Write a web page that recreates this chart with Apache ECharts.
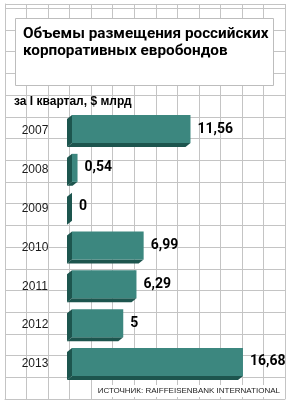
<!DOCTYPE html>
<html>
<head>
<meta charset="utf-8">
<script src="https://cdn.jsdelivr.net/npm/echarts@6/dist/echarts.min.js"></script>
<style>
  html, body { margin: 0; padding: 0; background: #fff; }
  #main { width: 292px; height: 407px; }
</style>
</head>
<body>
<div id="main"></div>
<script>
// данные
var years = ['2007', '2008', '2009', '2010', '2011', '2012', '2013'];
var volumes = [11.56, 0.54, 0, 6.99, 6.29, 5, 16.68];
var titleText = 'Объемы размещения российских\nкорпоративных евробондов';
var unitText = 'за I квартал, $ млрд';
var sourceText = 'ИСТОЧНИК: RAIFFEISENBANK INTERNATIONAL';

var myChart = echarts.init(document.getElementById('main'));

var faceColor = '#3c877f';
var darkColor = '#1d554e';

function fmt(v) {
    return String(v).replace('.', ',');
}

var option = {
    backgroundColor: '#fff',
    animation: false,
    title: [
        {
            text: titleText,
            left: 23,
            top: 26,
            padding: 0,
            z: 8,
            textStyle: {
                color: '#000',
                fontFamily: 'Roboto',
                fontWeight: 'bold',
                fontSize: 15.3,
                lineHeight: 17
            }
        },
        {
            text: unitText,
            left: 14,
            top: 95,
            padding: 0,
            textStyle: {
                color: '#000',
                fontFamily: "'Liberation Sans Narrow', 'Liberation Sans'",
                fontWeight: 'bold',
                fontSize: 12,
                lineHeight: 14
            }
        },
        {
            text: sourceText,
            right: 11,
            top: 385,
            padding: [1, 1],
            backgroundColor: '#fff',
            textStyle: {
                color: '#222',
                fontFamily: "'Liberation Sans Narrow', 'Liberation Sans'",
                fontWeight: 'normal',
                fontSize: 8,
                lineHeight: 10
            }
        }
    ],
    // белая плашка под заголовком
    graphic: [
        {
            type: 'rect',
            z: 5,
            shape: { x: 15.5, y: 18.5, width: 258, height: 67 },
            style: { fill: '#fff', stroke: '#bdbdbd', lineWidth: 1 }
        }
    ],
    grid: [
        // фоновая клетка
        { left: 5, right: 7, top: 4, bottom: 8 },
        // столбцы
        { left: 72, width: 205, top: 111.6, bottom: 23.6 }
    ],
    xAxis: [
        {
            gridIndex: 0,
            type: 'value',
            position: 'top',
            min: 0,
            max: 13,
            interval: 1,
            axisLine: { show: true, lineStyle: { color: '#c4c4c4', width: 1 } },
            axisTick: { show: false },
            axisLabel: { show: false },
            splitLine: { show: true, lineStyle: { color: '#c4c4c4', width: 1 } }
        },
        {
            gridIndex: 1,
            type: 'value',
            min: 0,
            max: 20,
            show: false
        }
    ],
    yAxis: [
        {
            gridIndex: 0,
            type: 'value',
            min: 0,
            max: 18.2,
            interval: 1,
            axisLine: { show: true, lineStyle: { color: '#c4c4c4', width: 1 } },
            axisTick: { show: false },
            axisLabel: { show: false },
            splitLine: { show: true, lineStyle: { color: '#c4c4c4', width: 1 } }
        },
        {
            gridIndex: 1,
            type: 'category',
            inverse: true,
            data: years,
            axisLine: { show: false },
            axisTick: { show: false },
            splitLine: { show: false },
            axisLabel: {
                margin: 37,
                align: 'center',
                color: '#1a1a1a',
                fontFamily: "'Liberation Sans', Arial",
                fontSize: 12
            }
        }
    ],
    series: [
        {
            type: 'custom',
            xAxisIndex: 1,
            yAxisIndex: 1,
            z: 10,
            data: volumes.map(function (v, i) { return [v, i]; }),
            encode: { x: 0, y: 1 },
            renderItem: function (params, api) {
                var v = api.value(0);
                var idx = api.value(1);
                var p0 = api.coord([0, idx]);
                var p1 = api.coord([v, idx]);
                var x0 = p0[0], x1 = p1[0], yc = p0[1];
                var top = yc - 16, bot = yc + 12;
                var dx = -5, dy = 4;
                return {
                    type: 'group',
                    children: [
                        {
                            type: 'polygon',
                            shape: { points: [[x0, top], [x0, bot], [x0 + dx, bot + dy], [x0 + dx, top + dy]] },
                            style: { fill: darkColor }
                        },
                        {
                            type: 'polygon',
                            shape: { points: [[x0, bot], [x1, bot], [x1 + dx, bot + dy], [x0 + dx, bot + dy]] },
                            style: { fill: darkColor }
                        },
                        {
                            type: 'rect',
                            shape: { x: x0, y: top, width: x1 - x0, height: bot - top },
                            style: { fill: faceColor }
                        },
                        {
                            type: 'text',
                            style: {
                                text: fmt(volumes[idx]),
                                x: x1 + 7,
                                y: yc - 2,
                                align: 'left',
                                verticalAlign: 'middle',
                                fill: '#000',
                                font: 'bold 14px Roboto'
                            }
                        }
                    ]
                };
            }
        }
    ]
};

myChart.setOption(option);
window.onresize = myChart.resize;
</script>
</body>
</html>
